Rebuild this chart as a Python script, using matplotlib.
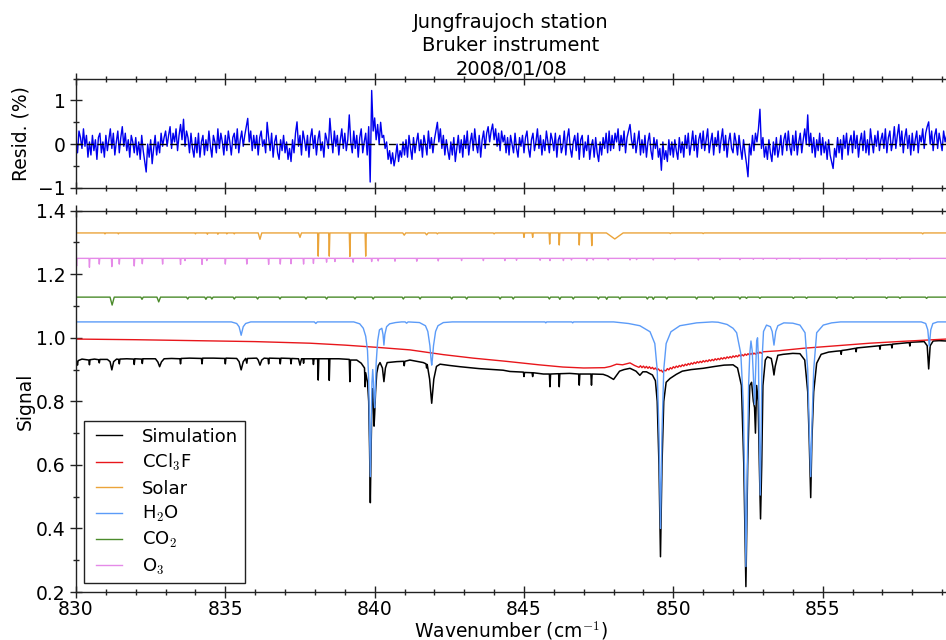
import numpy as np
import matplotlib
matplotlib.use('Agg')
import matplotlib.pyplot as plt
from matplotlib.ticker import MultipleLocator

plt.rcParams['font.family'] = ['DejaVu Sans']
plt.rcParams['mathtext.fontset'] = 'cm'
plt.rcParams['font.size'] = 13

# ------------------------------------------------------------------ data
title_text = "Jungfraujoch station\nBruker instrument\n2008/01/08"
labels = ["Simulation", "CCl$_3$F", "Solar", "H$_2$O", "CO$_2$", "O$_3$"]
colors = ["black", "#e8161b", "#eba43a", "#5b9bf8", "#4b8b2b", "#e58ae8"]
x_range = (830.0, 859.13)

# residual (%) sampled every 0.05 cm-1 from 830.0
resid_start = 830.0
resid_step = 0.05
resid = [
 0.1,-0.2,0.3,0.15,-0.1,0.35,-0.05,0.2,-0.3,0.05,-0.25,0.2,-0.15,0.1,-0.35,0.15,0.25,-0.2,0.05,-0.3,
 0.2,-0.15,0.1,0.35,-0.1,0.25,-0.25,0.05,0.3,-0.2,0.15,0.4,-0.05,0.25,-0.15,0.1,-0.3,0.2,0.05,-0.2,
 0.15,-0.25,0.05,-0.35,0.2,-0.15,-0.4,-0.64,0.0,-0.3,0.1,-0.45,-0.1,0.2,-0.25,0.05,-0.2,0.25,-0.05,0.15,
 0.3,-0.05,0.2,0.4,-0.1,0.25,0.05,0.35,-0.15,0.2,0.45,0.1,0.57,-0.05,0.3,0.15,-0.2,0.25,-0.1,-0.3,
 0.15,-0.2,0.25,-0.3,0.05,0.2,-0.25,0.1,-0.15,0.3,-0.05,-0.3,0.2,0.05,-0.2,0.35,-0.1,0.25,0.05,-0.25,
 0.2,-0.15,0.3,0.05,-0.25,0.15,0.25,-0.1,0.35,-0.2,0.1,0.3,-0.05,0.2,0.4,0.59,0.05,0.3,-0.15,0.2,
 -0.1,0.2,-0.25,0.15,0.3,-0.05,0.1,-0.2,0.5,0.15,-0.15,0.25,-0.3,0.05,0.2,-0.2,-0.35,0.1,-0.15,0.2,
 -0.2,0.05,-0.35,-0.1,-0.4,0.1,-0.2,0.25,0.51,-0.05,0.2,-0.25,0.3,0.1,-0.15,0.2,-0.3,0.15,0.35,-0.1,
 0.2,-0.25,0.1,0.3,-0.15,0.05,-0.3,0.25,0.1,-0.1,0.59,0.15,-0.2,0.3,-0.05,0.2,-0.25,0.1,0.35,-0.1,
 0.25,-0.15,0.1,0.67,0.05,-0.2,0.3,-0.1,0.2,-0.3,0.15,0.35,-0.2,0.05,0.25,-0.25,0.4,-0.87,1.23,0.3,
 0.6,0.1,0.45,0.0,0.5,0.15,0.2,-0.1,0.05,-0.35,-0.15,-0.45,-0.2,-0.5,-0.3,0.0,-0.4,-0.15,-0.3,0.05,
 -0.25,0.1,-0.3,0.2,-0.1,-0.35,0.15,-0.2,0.05,0.25,-0.15,0.1,-0.3,0.2,0.0,-0.25,0.3,-0.1,0.15,-0.2,
 0.1,0.3,0.5,0.05,0.35,-0.1,0.2,-0.25,0.1,-0.15,-0.35,0.05,-0.25,0.15,-0.4,-0.1,0.2,-0.2,0.1,-0.3,
 0.2,-0.1,0.3,-0.25,0.05,0.25,-0.15,0.35,0.0,-0.2,0.2,-0.3,0.1,0.3,-0.1,0.25,0.4,0.05,0.3,0.46,
 0.1,0.35,-0.05,0.25,-0.15,0.3,0.05,0.2,-0.2,0.15,-0.25,0.2,0.0,-0.2,0.25,-0.1,-0.3,0.15,-0.05,0.2,
 -0.2,0.15,0.3,-0.1,-0.3,0.1,0.25,-0.15,0.05,0.35,-0.1,0.2,-0.25,0.1,-0.15,0.3,0.05,-0.2,0.25,0.1,
 -0.15,0.25,-0.3,0.1,0.2,-0.2,-0.05,0.3,-0.25,0.15,0.35,-0.1,-0.3,0.05,0.2,-0.15,0.25,-0.35,0.1,0.2,
 -0.3,0.05,-0.15,0.2,-0.35,-0.05,0.1,-0.3,0.15,-0.2,-0.4,0.05,-0.25,0.15,-0.1,0.25,-0.2,0.3,-0.15,0.2,
 -0.1,0.25,0.05,0.35,-0.15,0.2,-0.05,0.3,-0.2,0.15,0.3,0.45,0.1,-0.1,0.25,-0.2,0.05,0.3,-0.25,0.1,
 -0.2,0.2,-0.3,0.05,0.25,-0.15,-0.35,0.15,-0.1,0.1,-0.3,-0.1,-0.6,0.05,-0.35,-0.15,-0.4,0.1,-0.25,0.05,
 -0.3,0.1,-0.15,-0.35,0.15,-0.2,0.05,-0.3,0.2,-0.1,0.25,-0.25,0.0,0.3,-0.15,0.2,-0.3,0.1,0.25,-0.1,
 0.3,-0.15,0.1,0.35,-0.2,0.05,0.25,-0.25,0.15,-0.05,0.3,-0.2,0.1,0.35,-0.15,0.2,-0.3,0.05,0.25,-0.1,
 -0.2,0.25,0.05,-0.25,0.2,-0.1,-0.35,0.1,-0.2,-0.45,-0.75,0.0,-0.25,0.2,-0.15,0.25,0.05,0.35,0.8,-0.1,
 0.15,-0.3,-0.05,-0.35,0.1,-0.2,-0.4,0.05,-0.25,0.15,-0.3,-0.1,0.2,-0.25,0.1,0.25,-0.15,0.3,-0.05,-0.25,
 0.2,-0.15,0.3,-0.25,0.05,0.25,-0.2,0.1,0.35,0.0,0.67,-0.05,0.25,-0.2,0.15,-0.3,0.1,-0.15,0.25,-0.25,
 0.15,-0.2,0.05,-0.35,0.1,-0.25,-0.4,-0.56,-0.1,-0.3,0.15,-0.2,0.1,-0.35,0.2,-0.1,0.25,-0.25,0.05,0.2,
 -0.2,0.3,-0.1,0.2,-0.3,0.05,0.25,-0.15,0.3,-0.2,0.1,-0.25,0.35,0.05,-0.2,0.2,-0.05,0.3,-0.15,0.1,
 0.25,-0.1,0.35,-0.2,0.15,0.3,-0.15,0.05,0.4,-0.1,0.2,0.45,-0.05,0.3,-0.2,0.15,0.35,-0.1,0.2,-0.25,
 0.25,-0.15,0.1,0.3,-0.2,0.2,0.05,0.35,-0.1,0.25,0.4,0.51,0.0,0.3,-0.15,0.2,0.35,-0.1,0.25,0.05,
 -0.15,0.3,0.05,0.2,
]

# Simulation (black) trace vertices
sim_wn = [
 830.00,830.03,830.05,830.07,830.20,830.43,830.45,830.47,830.62,830.76,830.78,830.80,
 831.05,831.14,831.20,831.26,831.36,831.43,831.45,831.47,831.70,831.93,831.95,831.97,
 832.20,832.22,832.24,832.66,832.74,832.80,832.86,832.95,833.20,833.48,833.50,833.52,
 833.80,834.20,834.22,834.24,834.60,834.98,835.00,835.02,835.38,835.46,835.53,835.60,
 835.68,835.72,835.74,836.05,836.10,836.16,836.22,836.30,836.43,836.45,836.47,836.82,
 836.84,836.86,837.18,837.20,837.22,837.45,837.50,837.55,837.60,837.62,837.64,837.93,
 837.95,837.97,838.09,838.11,838.13,838.46,838.48,838.50,838.80,839.15,839.17,839.19,
 839.40,839.55,839.66,839.68,839.70,839.76,839.80,839.83,839.855,839.88,839.91,839.935,
 839.96,839.98,840.00,840.03,840.07,840.12,840.18,840.26,840.31,840.36,840.42,840.74,
 840.97,840.99,841.01,841.18,841.40,841.63,841.72,841.74,841.76,841.84,841.91,841.98,
 842.07,842.19,842.50,842.86,843.19,843.50,844.00,844.30,844.53,844.98,845.00,845.02,
 845.27,845.29,845.31,845.65,845.85,845.87,845.89,846.16,846.18,846.20,846.53,846.83,
 846.85,846.87,847.24,847.26,847.28,847.65,847.80,848.00,848.20,848.35,848.55,848.75,
 848.88,848.98,849.10,849.30,849.40,849.46,849.52,849.57,849.62,849.68,849.76,849.89,
 850.10,850.30,850.60,851.00,851.40,851.70,852.00,852.15,852.28,852.36,852.43,852.49,
 852.56,852.62,852.68,852.72,852.75,852.79,852.84,852.88,852.92,852.96,853.00,853.08,
 853.15,853.28,853.33,853.37,853.41,853.50,853.68,854.00,854.24,854.40,854.50,854.55,
 854.60,854.64,854.70,854.80,854.95,855.20,855.47,855.60,855.62,855.64,855.80,856.10,
 856.12,856.14,856.58,856.90,856.92,856.94,857.30,857.32,857.34,857.70,857.90,857.92,
 857.94,858.40,858.50,858.55,858.60,858.70,858.90,859.13,
]
sim_val = [
 0.930,0.922,0.914,0.928,0.933,0.930,0.915,0.931,0.933,0.931,0.921,0.932,
 0.932,0.925,0.899,0.925,0.933,0.932,0.918,0.933,0.934,0.933,0.916,0.934,
 0.933,0.919,0.934,0.934,0.924,0.909,0.924,0.934,0.935,0.934,0.918,0.935,
 0.936,0.935,0.918,0.936,0.936,0.935,0.918,0.936,0.935,0.925,0.899,0.925,
 0.935,0.920,0.935,0.936,0.930,0.914,0.930,0.936,0.935,0.918,0.936,0.935,
 0.918,0.936,0.935,0.918,0.935,0.934,0.914,0.934,0.934,0.920,0.934,0.934,
 0.916,0.934,0.934,0.867,0.934,0.934,0.866,0.934,0.934,0.932,0.862,0.930,
 0.930,0.920,0.905,0.846,0.890,0.860,0.800,0.650,0.481,0.650,0.800,0.840,
 0.790,0.722,0.760,0.830,0.889,0.912,0.922,0.905,0.862,0.905,0.922,0.925,
 0.926,0.912,0.926,0.930,0.926,0.922,0.918,0.905,0.916,0.870,0.794,0.870,
 0.910,0.917,0.913,0.909,0.906,0.903,0.900,0.898,0.894,0.892,0.878,0.891,
 0.890,0.878,0.890,0.886,0.886,0.846,0.886,0.887,0.846,0.887,0.888,0.886,
 0.851,0.886,0.886,0.851,0.886,0.885,0.880,0.869,0.895,0.900,0.904,0.895,
 0.882,0.893,0.893,0.883,0.865,0.800,0.600,0.311,0.600,0.800,0.860,0.872,
 0.885,0.895,0.900,0.904,0.910,0.914,0.915,0.905,0.850,0.600,0.217,0.600,
 0.850,0.860,0.800,0.780,0.700,0.850,0.800,0.600,0.430,0.600,0.850,0.930,
 0.940,0.935,0.910,0.883,0.910,0.945,0.948,0.951,0.950,0.930,0.830,0.680,
 0.497,0.680,0.830,0.920,0.948,0.955,0.958,0.959,0.948,0.960,0.962,0.967,
 0.956,0.968,0.972,0.975,0.964,0.976,0.979,0.968,0.980,0.983,0.985,0.974,
 0.986,0.988,0.975,0.902,0.975,0.990,0.991,0.990,
]

# CCl3F (red) trace vertices
ccl3f_wn = [
 830.0,832.0,834.0,836.0,837.83,839.0,840.07,841.18,842.3,843.3,844.4,845.5,846.3,847.0,
 847.7,847.9,848.1,848.3,848.55,848.7,848.85,848.9,848.95,849.0,849.05,849.1,849.15,849.2,
 849.25,849.3,849.35,849.4,849.45,849.5,849.55,849.6,849.64,849.7,849.75,849.8,849.85,849.9,
 849.95,850.0,850.05,850.1,850.15,850.2,850.25,850.3,850.35,850.4,850.45,850.5,850.55,850.6,
 850.65,850.7,850.75,850.8,850.85,850.9,850.95,851.0,851.05,851.1,851.15,851.2,851.25,851.3,
 851.35,851.4,851.45,851.5,851.55,851.6,851.65,851.7,851.75,851.8,851.85,851.9,851.95,852.0,
 852.05,852.1,852.15,852.2,852.25,852.3,852.35,852.4,852.45,852.5,852.55,852.6,852.65,852.7,
 852.75,852.8,852.85,852.9,852.95,853.0,853.5,854.35,855.47,856.58,857.7,859.13,
]
ccl3f_val = [
 0.996,0.994,0.991,0.988,0.983,0.977,0.970,0.962,0.947,0.936,0.926,0.915,0.908,0.905,
 0.906,0.910,0.917,0.915,0.921,0.913,0.907,0.912,0.906,0.911,0.905,0.910,0.904,0.909,
 0.903,0.907,0.901,0.905,0.899,0.902,0.896,0.898,0.892,0.898,0.896,0.903,0.899,0.906,
 0.902,0.909,0.905,0.911,0.907,0.913,0.909,0.915,0.911,0.917,0.913,0.919,0.915,0.921,
 0.917,0.923,0.919,0.925,0.921,0.926,0.922,0.928,0.924,0.929,0.925,0.931,0.927,0.932,
 0.928,0.934,0.930,0.935,0.931,0.937,0.933,0.938,0.934,0.940,0.936,0.941,0.937,0.943,
 0.939,0.944,0.940,0.946,0.942,0.947,0.943,0.949,0.945,0.950,0.946,0.951,0.947,0.952,
 0.948,0.954,0.950,0.955,0.951,0.956,0.959,0.967,0.975,0.983,0.989,0.996,
]

# Solar: flat level with narrow absorption lines
solar_level = 1.33
solar_wn  = [830.97,831.42,834.0,834.4,834.75,835.05,835.3,836.16,837.50,838.11,838.48,839.17,839.70,
             840.99,841.74,842.1,844.0,845.00,845.29,845.86,846.18,846.85,847.27,848.04,849.9,851.0,858.35]
solar_min = [1.327,1.327,1.327,1.326,1.326,1.327,1.327,1.310,1.316,1.257,1.257,1.256,1.257,
             1.323,1.324,1.327,1.327,1.316,1.316,1.295,1.292,1.292,1.290,1.311,1.328,1.328,1.327]
solar_hw  = [0.02,0.02,0.02,0.02,0.02,0.02,0.02,0.06,0.05,0.02,0.02,0.02,0.02,
             0.05,0.05,0.03,0.03,0.02,0.02,0.02,0.02,0.02,0.02,0.28,0.03,0.03,0.03]

# O3: flat level with narrow lines
o3_level = 1.25
o3_wn = [830.02,830.45,830.78,831.2,831.45,831.95,832.22,832.9,833.5,833.65,834.22,834.38,835.0,
         835.72,836.45,836.84,837.2,837.62,837.95,838.39,838.67,839.28,839.9,840.12,840.68,841.41,
         842.13,842.91,843.64,844.36,844.75,845.54,845.87,846.32,846.59,847.1,847.32,847.82,848.55,
         848.77,849.33,850.05,850.84,851.56,852.23,852.68,853.01,853.46,853.9,854.24,854.91,855.47,
         855.8,856.47,856.92,857.48,857.92]
o3_min = [1.226,1.222,1.232,1.224,1.232,1.226,1.233,1.232,1.231,1.243,1.231,1.243,1.232,
          1.232,1.231,1.232,1.233,1.232,1.234,1.238,1.240,1.238,1.240,1.242,1.241,1.241,
          1.242,1.243,1.243,1.243,1.244,1.244,1.243,1.243,1.245,1.243,1.245,1.245,1.245,
          1.246,1.245,1.246,1.245,1.246,1.246,1.247,1.247,1.247,1.247,1.247,1.247,1.247,
          1.247,1.247,1.247,1.247,1.247]

# CO2: flat level with lines
co2_level = 1.128
co2_wn = [831.21,832.21,832.77,833.74,834.35,834.55,835.3,836.08,836.83,837.7,838.39,839.34,839.95,
          840.96,841.52,842.58,843.08,844.2,844.64,845.85,846.2,846.65,847.49,847.77,848.21,849.13,
          849.33,849.78,850.78,851.34,852.23,852.45,852.9,854.02,854.46,855.47,856.02,857.14,857.59,858.48]
co2_min = [1.103,1.121,1.113,1.122,1.121,1.122,1.122,1.122,1.122,1.122,1.122,1.122,1.122,
           1.122,1.122,1.122,1.122,1.122,1.122,1.122,1.121,1.122,1.122,1.121,1.122,1.122,
           1.121,1.122,1.122,1.122,1.122,1.124,1.124,1.124,1.124,1.124,1.124,1.124,1.124,1.124]
co2_hw = [0.07,0.04,0.06] + [0.04] * 37

# H2O trace vertices
h2o_wn = [
 830.0,835.2,835.38,835.46,835.50,835.53,835.56,835.60,835.68,835.85,837.98,838.03,838.08,
 839.3,839.5,839.62,839.70,839.76,839.80,839.83,839.855,839.88,839.91,839.935,839.96,839.985,
 840.00,840.02,840.05,840.10,840.16,840.24,840.28,840.31,840.34,840.40,840.50,840.70,840.90,
 841.02,841.07,841.12,841.50,841.70,841.78,841.85,841.89,841.91,841.93,841.97,842.04,842.12,
 842.30,842.60,845.70,845.73,845.76,846.60,846.63,846.66,848.0,848.5,848.88,849.22,849.38,
 849.46,849.52,849.57,849.62,849.68,849.76,849.92,850.22,850.78,851.3,851.5,851.8,852.0,
 852.12,852.26,852.34,852.39,852.43,852.47,852.52,852.56,852.60,852.64,852.68,852.72,852.75,
 852.79,852.82,852.85,852.88,852.91,852.94,852.97,853.02,853.12,853.25,853.31,853.37,853.43,
 853.50,853.70,854.00,854.24,854.41,854.50,854.55,854.60,854.64,854.70,854.80,855.02,855.30,
 855.60,858.30,858.45,858.52,858.57,858.62,858.69,858.85,859.13,
]
h2o_val = [
 1.050,1.050,1.045,1.035,1.020,1.008,1.020,1.035,1.045,1.050,1.050,1.045,1.050,
 1.050,1.044,1.030,1.005,0.960,0.870,0.700,0.563,0.700,0.860,0.900,0.860,0.800,
 0.780,0.820,0.920,0.990,1.025,1.030,1.010,0.977,1.010,1.035,1.044,1.048,1.050,
 1.050,1.046,1.050,1.048,1.038,1.020,0.975,0.930,0.914,0.930,0.975,1.020,1.038,
 1.048,1.050,1.050,1.047,1.050,1.050,1.047,1.050,1.050,1.045,1.038,1.019,0.982,
 0.900,0.700,0.400,0.700,0.900,0.982,1.019,1.038,1.047,1.050,1.049,1.042,1.030,
 1.016,0.950,0.800,0.550,0.280,0.550,0.850,0.950,0.990,0.960,0.880,0.790,0.880,
 0.990,1.000,0.930,0.700,0.505,0.700,0.930,1.020,1.040,1.035,1.020,0.977,1.020,
 1.038,1.047,1.046,1.040,1.016,0.900,0.720,0.563,0.720,0.900,1.016,1.040,1.047,
 1.050,1.050,1.045,1.025,0.974,1.025,1.045,1.050,1.050,
]


def dip_trace(level, centers, minima, halfwidths, lo, hi):
    xs, ys = [lo], [level]
    for c, m, w in zip(centers, minima, halfwidths):
        xs += [c - w, c, c + w]
        ys += [level, m, level]
    xs.append(hi)
    ys.append(level)
    return xs, ys


solar_x, solar_y = dip_trace(solar_level, solar_wn, solar_min, solar_hw, *x_range)
o3_x, o3_y = dip_trace(o3_level, o3_wn, o3_min, [0.015] * len(o3_wn), *x_range)
co2_x, co2_y = dip_trace(co2_level, co2_wn, co2_min, co2_hw, *x_range)
resid_x = resid_start + resid_step * np.arange(len(resid))

# ------------------------------------------------------------------ figure
FS_TICK = 13.5
fig = plt.figure(figsize=(9.46, 6.40), dpi=100)
L, W = 76 / 946, 870 / 946
ax1 = fig.add_axes([L, 1 - 187.7 / 640, W, 109 / 640])
ax2 = fig.add_axes([L, 1 - 592 / 640, W, 381.3 / 640])

for ax in (ax1, ax2):
    ax.spines['right'].set_visible(False)
    for s in ('top', 'bottom', 'left'):
        ax.spines[s].set_linewidth(1.0)
        ax.spines[s].set_color('#222222')
    ax.set_xlim(*x_range)
    ax.xaxis.set_major_locator(MultipleLocator(5))
    ax.xaxis.set_minor_locator(MultipleLocator(1))
    ax.tick_params(which='both', direction='inout', top=True, bottom=True,
                   left=True, right=False, width=1.0, color='#222222')
    ax.tick_params(which='major', length=8)
    ax.tick_params(which='minor', length=4)
    ax.tick_params(labelsize=FS_TICK)
    ax.tick_params(axis='x', pad=1.5)

# residual panel
ax1.plot(resid_x, resid, color='#0000ee', lw=1.0, zorder=2)
ax1.axhline(0, color='black', ls=(0, (5, 2.5)), lw=1.0, zorder=3)
ax1.set_ylim(-1, 1.5)
ax1.yaxis.set_major_locator(MultipleLocator(1))
ax1.yaxis.set_minor_locator(MultipleLocator(0.5))
ax1.tick_params(labelbottom=False)
ax1.set_ylabel("Resid. (%)", fontsize=FS_TICK)
ax1.yaxis.set_label_coords(-0.052, 0.5)
ax1.set_title(title_text, fontsize=14, pad=3, linespacing=1.3)

# signal panel
traces = [(sim_wn, sim_val), (ccl3f_wn, ccl3f_val), (solar_x, solar_y),
          (h2o_wn, h2o_val), (co2_x, co2_y), (o3_x, o3_y)]
widths = [1.1, 1.0, 1.0, 1.0, 1.0, 1.0]
for (xs, ys), lab, col, lw in zip(traces, labels, colors, widths):
    ax2.plot(xs, ys, color=col, lw=lw, label=lab)
ax2.set_ylim(0.2, 1.4)
ax2.yaxis.set_major_locator(MultipleLocator(0.2))
ax2.yaxis.set_minor_locator(MultipleLocator(0.1))
ax2.set_ylabel("Signal", fontsize=FS_TICK)
ax2.yaxis.set_label_coords(-0.047, 0.5)
ax2.set_xlabel("Wavenumber (cm$^{-1}$)", fontsize=FS_TICK, labelpad=0)

leg = ax2.legend(loc='lower left', bbox_to_anchor=(0.0092, 0.0236), borderaxespad=0,
                 fontsize=13, fancybox=False, framealpha=1, edgecolor='#222222',
                 handlelength=1.78, handletextpad=1.1, labelspacing=0.35, borderpad=0.35)
leg.get_frame().set_linewidth(1.0)
for h in leg.get_lines():
    h.set_linewidth(1.0)
    xd = list(h.get_xdata())
    if len(xd) >= 2:
        h.set_xdata([xd[0] + 4.3, xd[-1]])
        h.set_ydata([h.get_ydata()[0], h.get_ydata()[-1]])

fig.savefig("out.png", dpi=100)
